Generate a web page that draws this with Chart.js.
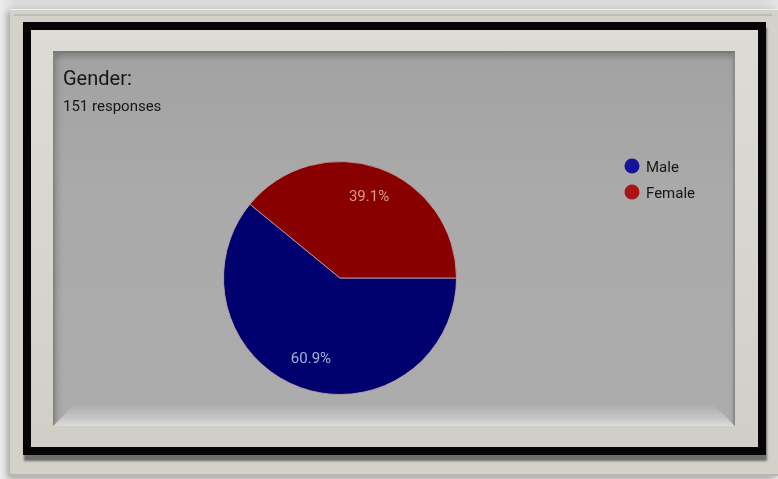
<!DOCTYPE html>
<html>
<head>
<meta charset="utf-8">
<script src="https://cdn.jsdelivr.net/npm/chart.js@4.4.1/dist/chart.umd.min.js"></script>
<style>
  html, body { margin: 0; padding: 0; }
  body {
    width: 778px; height: 479px; overflow: hidden; position: relative;
    background: linear-gradient(90deg, #ececec 0%, #dadada 2%, #dadada 98%, #e4e4e4 100%);
    font-family: Roboto, "Liberation Sans", Arial, sans-serif;
  }
  .frame {
    position: absolute; left: 10px; top: 9px; width: 768px; height: 467px;
    background: #d3d1c9;
    box-shadow: -3px 2px 6px rgba(0,0,0,0.25), inset 0 1px 0 #f0efea, inset 0 -2px 0 #b9b7b0;
  }
  .frame::before {
    content: ""; position: absolute; left: 4px; top: 5px; right: 6px; height: 2px;
    background: #bebcb5;
  }
  .black {
    position: absolute; left: 23px; top: 22px; width: 743px; height: 433px;
    background: #050505;
    box-shadow: 1px 6px 2px rgba(70,68,62,0.7);
  }
  .mat {
    position: absolute; left: 31px; top: 30px; width: 727px; height: 417px;
    background: linear-gradient(180deg, #dddcd4 0%, #d6d4cc 60%, #d0cec6 100%);
  }
  .panel {
    position: absolute; left: 53px; top: 51px; width: 682px; height: 375px;
    background: linear-gradient(180deg, #a2a2a2 0%, #aaaaaa 40%, #acacac 100%);
    box-shadow: inset 0 2px 0 #7a7a7a, inset 2px 0 0 #858585, inset -2px 0 0 #8a8a8a,
                inset 0 6px 6px rgba(0,0,0,0.18), inset 5px 0 6px rgba(0,0,0,0.12);
    overflow: hidden;
  }
  .panel::after {
    content: ""; position: absolute; left: 0; right: 0; bottom: 0; height: 22px;
    background: linear-gradient(180deg, rgba(230,230,230,0) 0%, rgba(230,230,230,0.45) 65%, rgba(240,240,240,0.75) 100%);
    clip-path: polygon(22px 0, calc(100% - 22px) 0, 100% 100%, 0 100%);
  }
  canvas { position: absolute; left: 0; top: 0; }
</style>
</head>
<body>
<div class="frame"></div>
<div class="black"></div>
<div class="mat"></div>
<div class="panel">
  <canvas id="genderChart" width="682" height="375"></canvas>
</div>
<script>
// Survey answers: Gender
const questionTitle = "Gender:";
const genderLabels = ["Male", "Female"];
const genderCounts = [92, 59];
const sliceColors = ["#00006e", "#880000"];
const legendDotColors = ["#14149a", "#aa1414"];
const percentColors = ["#9fb3da", "#d99c84"];

const totalResponses = genderCounts.reduce((a, b) => a + b, 0);
const fontFamily = "Roboto, 'Liberation Sans', Arial, sans-serif";

// heading, legend and percentage labels drawn straight onto the canvas
const formsDecor = {
    id: "formsDecor",
    afterDatasetsDraw(chart) {
        const ctx = chart.ctx;
        const meta = chart.getDatasetMeta(0);
        ctx.save();

        ctx.textAlign = "center";
        ctx.textBaseline = "middle";
        ctx.font = "15px " + fontFamily;
        meta.data.forEach((arc, i) => {
            const mid = (arc.startAngle + arc.endAngle) / 2;
            const r = arc.outerRadius * 0.74;
            const pct = ((genderCounts[i] / totalResponses) * 100).toFixed(1) + "%";
            ctx.fillStyle = percentColors[i];
            ctx.fillText(pct, arc.x + Math.cos(mid) * r, arc.y + Math.sin(mid) * r);
        });

        ctx.textAlign = "left";
        ctx.textBaseline = "alphabetic";
        ctx.fillStyle = "#161616";
        ctx.font = "20px " + fontFamily;
        ctx.fillText(questionTitle, 10, 34);
        ctx.font = "15px " + fontFamily;
        ctx.fillText(totalResponses + " responses", 10, 60);

        // legend
        ctx.font = "15px " + fontFamily;
        genderLabels.forEach((label, i) => {
            const y = 115 + i * 26;
            ctx.beginPath();
            ctx.arc(579, y, 7.5, 0, Math.PI * 2);
            ctx.fillStyle = legendDotColors[i];
            ctx.fill();
            ctx.fillStyle = "#161616";
            ctx.fillText(label, 593, y + 6);
        });

        ctx.restore();
    },
};

const genderCtx = document.getElementById("genderChart").getContext("2d");
new Chart(genderCtx, {
    type: "pie",
    data: {
        labels: genderLabels,
        datasets: [
            {
                data: genderCounts,
                backgroundColor: sliceColors,
                borderColor: "rgba(190,165,165,0.85)",
                borderWidth: 1,
            },
        ],
    },
    options: {
        responsive: false,
        animation: false,
        rotation: 90,
        layout: {
            padding: { left: 170, right: 278, top: 108, bottom: 29 },
        },
        plugins: {
            legend: { display: false },
            title: { display: false },
            tooltip: { enabled: false },
        },
    },
    plugins: [formsDecor],
});
</script>
</body>
</html>
